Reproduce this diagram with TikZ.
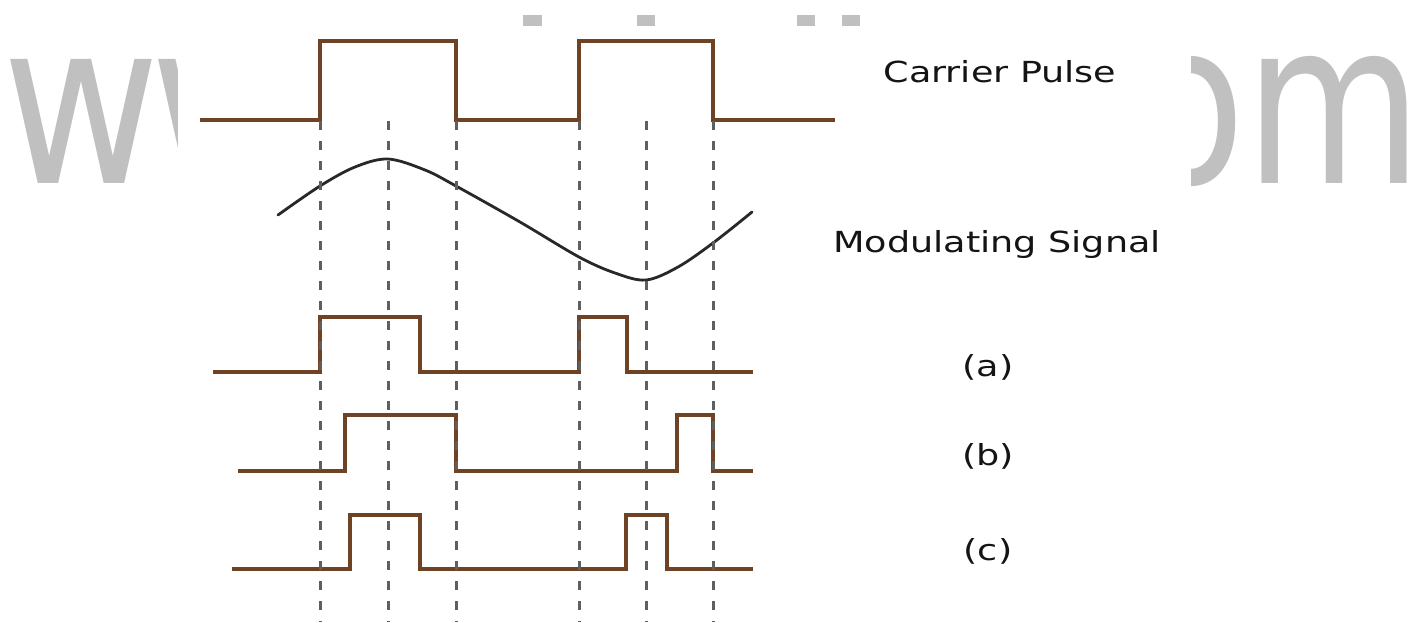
\documentclass[tikz,border=0pt]{standalone}
\usepackage{fontspec}
\setmainfont{DejaVu Sans}
\definecolor{pulsebrown}{RGB}{110,66,36}
\definecolor{curvegray}{RGB}{40,40,40}
\definecolor{dashgray}{RGB}{95,95,95}
\definecolor{wmgray}{RGB}{192,192,192}
\definecolor{lbltext}{RGB}{20,20,20}
\begin{document}
\begin{tikzpicture}[x=1pt,y=-1pt,
  pulse/.style={draw=pulsebrown, line width=3.2pt, line join=miter},
  msig/.style={draw=curvegray, line width=2.8pt, line cap=round},
  guide/.style={draw=dashgray, line width=3pt, dash pattern=on 9pt off 11pt},
  lbl/.style={font=\fontsize{29}{34}\selectfont, text=lbltext, inner sep=0pt, anchor=base},
  wm/.style={font=\fontsize{227}{240}\selectfont, text=wmgray, inner sep=0pt, text depth=0pt}]
\useasboundingbox (0,0) rectangle (1420,622);
\fill[white] (0,0) rectangle (1420,622);
% watermark
\node[wm, anchor=base west] (wmL) at (2,183) {\scalebox{0.85}[1]{w\kern-12pt w\kern-12pt w}};
\node[wm, anchor=base east] (wmR) at (1423,183) {\scalebox{0.8}[1]{om}};
\fill[white] (178,27) rectangle (1191,622);
\foreach \x/\w in {523/19,637/18,797/18,842/18} \fill[wmgray] (\x,15) rectangle ++(\w,11);
% carrier pulse
\draw[pulse] (200,120) -- (320,120) -- (320,41) -- (456,41) -- (456,120) -- (579,120) -- (579,41) -- (713,41) -- (713,120) -- (835,120);
% modulating signal
\draw[msig] plot[smooth, tension=0.55] coordinates {(278,215) (320,186) (355,167) (388,159) (425,170) (456,186) (520,222) (579,257) (615,273) (646,280) (678,267) (713,243) (752,212)};
% (a) PAM
\draw[pulse] (213,372) -- (320,372) -- (320,317) -- (420,317) -- (420,372) -- (579,372) -- (579,317) -- (627,317) -- (627,372) -- (753,372);
% (b) PPM
\draw[pulse] (238,471) -- (345,471) -- (345,415) -- (456,415) -- (456,471) -- (677,471) -- (677,415) -- (713,415) -- (713,471) -- (753,471);
% (c) PWM
\draw[pulse] (232,569) -- (350,569) -- (350,515) -- (420,515) -- (420,569) -- (626,569) -- (626,515) -- (667,515) -- (667,569) -- (753,569);
% guide lines
\foreach \x in {320,388,456,579,646,713} \draw[guide] (\x,121) -- (\x,622);
% labels
\node[lbl] (carrier) at (1000,82) {\scalebox{1.26}[1]{Carrier Pulse}};
\node[lbl] (modsig) at (997,252) {\scalebox{1.26}[1]{Modulating Signal}};
\node[lbl] (la) at (988,376) {\scalebox{1.26}[1]{(a)}};
\node[lbl] (lb) at (988,465) {\scalebox{1.26}[1]{(b)}};
\node[lbl] (lc) at (988,560) {\scalebox{1.26}[1]{(c)}};
\end{tikzpicture}
\end{document}
